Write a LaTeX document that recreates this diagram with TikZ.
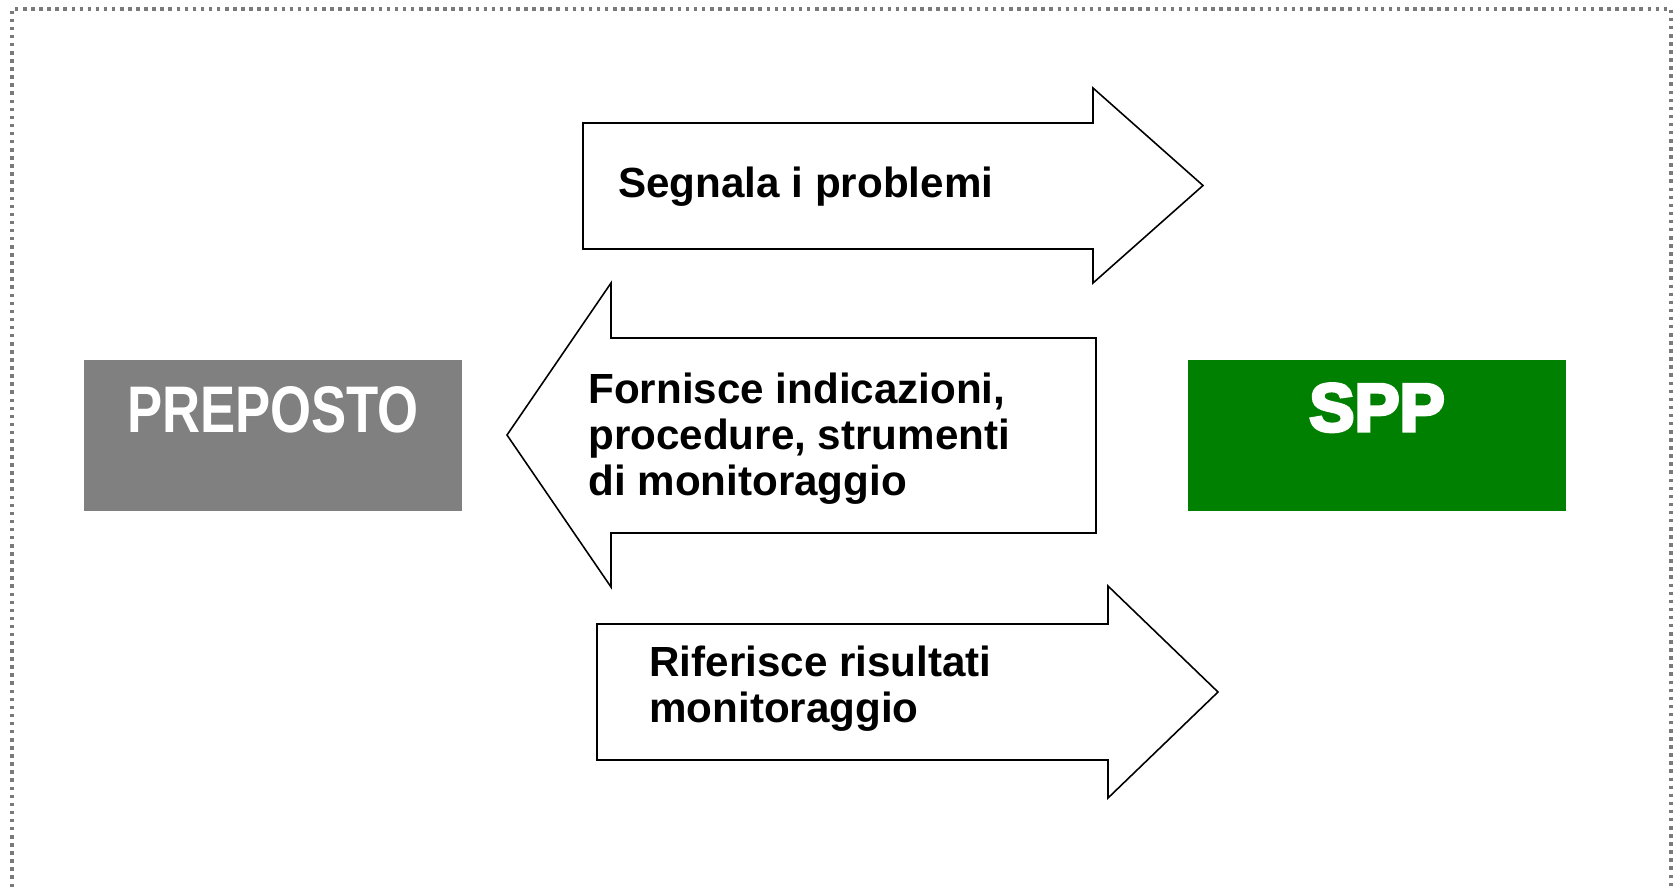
\documentclass[tikz,border=0pt]{standalone}
\usepackage{fontspec}
\setmainfont{Liberation Sans}
\newfontfamily\narrowfont{Liberation Sans}[FakeStretch=0.8]
\newfontfamily\heavyfont{Liberation Sans}[BoldFeatures={FakeBold=5}]
\usetikzlibrary{positioning}

\definecolor{boxgray}{HTML}{808080}
\definecolor{boxgreen}{HTML}{008000}
\definecolor{dotgray}{HTML}{7A7A7A}

\tikzset{
  frame/.style={draw=dotgray, line width=2pt, dash pattern=on 2pt off 2.6pt},
  blockarrow/.style={draw=black, fill=white, line width=0.9pt, line join=miter},
  arrowtext/.style={font=\bfseries\fontsize{24}{26}\selectfont, align=left,
    inner sep=0pt, anchor=north west},
  actor/.style={minimum width=7.56cm, minimum height=3.02cm, inner sep=0pt},
  actortext/.style={text=white, inner sep=0pt, anchor=base}
}

\begin{document}
\begin{tikzpicture}[x=0.02cm, y=-0.02cm]
    \useasboundingbox (0,0) rectangle (1677,887);
    % dotted frame, open at the bottom
    \draw[frame] (12,887) -- (12,9) -- (1671,9) -- (1671,887);

    % the two actors
    \node[actor, fill=boxgray] (preposto) at (273,435.5) {};
    \node[actor, fill=boxgreen] (spp) at (1377,435.5) {};
    \node[actortext, font=\narrowfont\bfseries\fontsize{37.5}{40}\selectfont]
        (prepostoText) at (273,432) {PREPOSTO};
    \node[actortext, font=\heavyfont\bfseries\fontsize{38.5}{42}\selectfont]
        (sppText) at (1377,431) {SPP};

    % block arrows
    \draw[blockarrow] (583,123) -- (1093,123) -- (1093,88) -- (1203,185.5)
        -- (1093,283) -- (1093,249) -- (583,249) -- cycle;
    \draw[blockarrow] (1096,338) -- (611,338) -- (611,283) -- (507,435)
        -- (611,587) -- (611,533) -- (1096,533) -- cycle;
    \draw[blockarrow] (597,624) -- (1108,624) -- (1108,586) -- (1218,692)
        -- (1108,798) -- (1108,760) -- (597,760) -- cycle;

    % texts on the arrows
    \node[arrowtext] (segnala) at (618,167) {Segnala i problemi};
    \node[arrowtext] (fornisce) at (588,373)
        {Fornisce indicazioni,\\procedure, strumenti\\di monitoraggio};
    \node[arrowtext] (riferisce) at (649,646)
        {Riferisce risultati\\monitoraggio};
\end{tikzpicture}
\end{document}
